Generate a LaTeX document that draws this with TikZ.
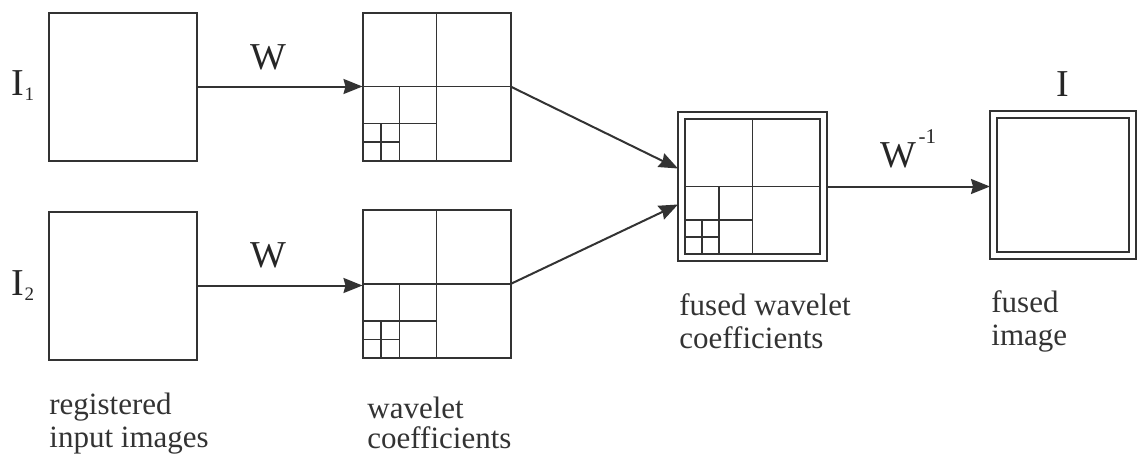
\documentclass[tikz,border=0pt]{standalone}
\usepackage{fontspec}
\setmainfont{Liberation Serif}
\usepackage{tikz}
\usetikzlibrary{arrows.meta,calc,positioning}

\tikzset{
  imgbox/.style={draw=black!80, line width=1pt, inner sep=0pt, outer sep=0pt, minimum width=74pt, minimum height=74pt},
  band/.style={draw=black!80, line width=0.95pt},
  flowarrow/.style={draw=black!80, line width=1pt, -{Stealth[length=9.5pt,width=7.5pt,inset=1pt]}},
  symb/.style={inner sep=0pt, text=black!85, font=\fontsize{19}{19}\selectfont},
  caplabel/.style={inner sep=0pt, text depth=0pt, text=black!80, align=left, anchor=north west, font=\fontsize{15.5}{16.5}\selectfont}
}

% dyadic split of a box into subbands, #2 = inset from the node border
\newcommand{\subbands}[2]{%
  \coordinate (#1-sw) at ([shift={(#2,#2)}]#1.south west);
  \coordinate (#1-ne) at ([shift={(-#2,-#2)}]#1.north east);
  \coordinate (#1-c) at ($(#1-sw)!.5!(#1-ne)$);
  \coordinate (#1-q) at ($(#1-sw)!.25!(#1-ne)$);
  \coordinate (#1-e) at ($(#1-sw)!.125!(#1-ne)$);
  \draw[band] (#1-c |- #1-sw) -- (#1-c |- #1-ne)
    (#1-c -| #1-sw) -- (#1-c -| #1-ne)
    (#1-q |- #1-sw) -- (#1-q |- #1-c)
    (#1-q -| #1-sw) -- (#1-q -| #1-c)
    (#1-e |- #1-sw) -- (#1-e |- #1-q)
    (#1-e -| #1-sw) -- (#1-e -| #1-q);
}

\begin{document}
\begin{tikzpicture}[x=0.5pt, y=-0.5pt]
\useasboundingbox (0,0) rectangle (1137,456);

%input images
\node[imgbox] (in1) at (123,86.5) {};
\node[imgbox] (in2) at (123,285.5) {};
\node[symb] (i1) at (23,86) {I\raisebox{-2.5pt}{\fontsize{9.5}{9.5}\selectfont 1}};
\node[symb] (i2) at (23,286) {I\raisebox{-2.5pt}{\fontsize{9.5}{9.5}\selectfont 2}};

%wavelet coefficients
\node[imgbox] (wc1) at (436.5,86.5) {};
\node[imgbox] (wc2) at (436.5,284) {};
\subbands{wc1}{0pt}
\subbands{wc2}{0pt}

%fused coefficients
\node[imgbox, minimum width=74.5pt, minimum height=74.5pt] (fw) at (752.5,186.5) {};
\subbands{fw}{3.6pt}
\draw[band] (fw-sw) rectangle (fw-ne);

%fused image
\node[imgbox, minimum width=73pt] (fi) at (1063,185) {};
\draw[band] ([shift={(3.5pt,3.5pt)}]fi.south west) rectangle ([shift={(-3.5pt,-3.5pt)}]fi.north east);
\node[symb, above=7pt of fi] (iout) {I};

%arrows
\coordinate (fwin1) at ([yshift=9pt]fw.west);
\coordinate (fwin2) at ([yshift=-9pt]fw.west);
\draw[flowarrow] (in1) -- node[symb, pos=.43, above=7.5pt] (w1) {W} (wc1);
\draw[flowarrow] (in2.east) -- node[symb, pos=.43, above=8pt] (w2) {W} (in2.east -| wc2.west);
\draw[flowarrow] (wc1.east) -- (fwin1);
\draw[flowarrow] (wc2.east) -- (fwin2);
\draw[flowarrow] (fw.east) -- node[symb, midway, above=8.5pt] (winv) {W\hspace{1pt}\raisebox{12pt}{\fontsize{10.5}{10.5}\selectfont -1}} (fw.east -| fi.west);

%captions
\node[caplabel] (reglab) at (49,393) {registered\\input images};
\node[caplabel] (wclab) at (367,397) {wavelet\\[-1.5pt]coefficients};
\node[caplabel] (fwlab) at (679,293) {fused wavelet\\coefficients};
\node[caplabel] (filab) at (991,290) {fused\\image};
\end{tikzpicture}
\end{document}
